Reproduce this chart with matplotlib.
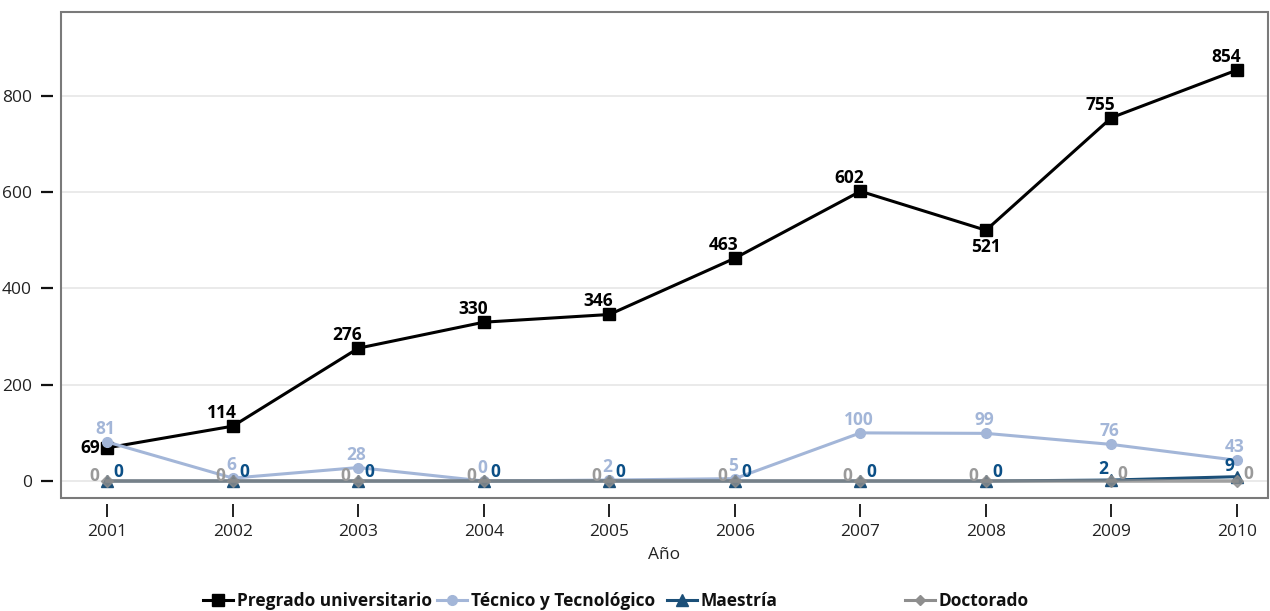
import matplotlib
matplotlib.use('Agg')
import matplotlib.pyplot as plt
from matplotlib.patches import Rectangle
from matplotlib.lines import Line2D

# ---- data ----
years = [2001, 2002, 2003, 2004, 2005, 2006, 2007, 2008, 2009, 2010]
pregrado = [69, 114, 276, 330, 346, 463, 602, 521, 755, 854]
tecnico = [81, 6, 28, 0, 2, 5, 100, 99, 76, 43]
maestria = [0, 0, 0, 0, 0, 0, 0, 0, 2, 9]
doctorado = [0, 0, 0, 0, 0, 0, 0, 0, 0, 0]
series_names = ['Pregrado universitario', 'Técnico y Tecnológico', 'Maestría', 'Doctorado']
y_ticks = [0, 200, 400, 600, 800]
x_label = 'Año'

plt.rcParams['font.family'] = ['Open Sans', 'DejaVu Sans']

C_PRE = '#000000'
C_TEC = '#a3b6d8'
C_MAE = '#1b4f78'
C_MAE_T = '#0b4f86'
C_DOC = '#8e8e8e'
C_DOC_T = '#9a9a9a'

fig = plt.figure(figsize=(12.7, 6.11), dpi=100)
ax = fig.add_axes([61/1270, 1-498/611, (1268-61)/1270, (498-12)/611])

ax.plot(years, pregrado, color=C_PRE, lw=2.2, marker='s', ms=8, zorder=3)
ax.plot(years, tecnico, color=C_TEC, lw=2.2, marker='o', ms=7, zorder=4)
ax.plot(years, maestria, color=C_MAE, lw=2.2, marker='^', ms=9, zorder=5)
ax.plot(years, doctorado, color=C_DOC, lw=2.6, marker='D', ms=6, zorder=6, alpha=0.8)

ax.set_xlim(2000.631, 2010.247)
ax.set_ylim(-35.3, 974.5)
ax.set_xticks(years)
ax.set_yticks(y_ticks)
ax.grid(axis='y', color='#e6e6e6', lw=1.2, zorder=0)
ax.set_axisbelow(True)

for s in ax.spines.values():
    s.set_visible(False)
ax.spines['left'].set_position(('outward', 6))
ax.spines['bottom'].set_position(('outward', 4))
ax.add_patch(Rectangle((0, 0), 1, 1, transform=ax.transAxes, fill=False,
                       edgecolor='#7a7a7a', lw=1.5, zorder=10, clip_on=False))
ax.tick_params(axis='y', length=9, width=1.6, color='#111111', pad=6,
               labelsize=12.5, labelcolor='#222222')
ax.tick_params(axis='x', length=9, width=1.3, color='#111111', pad=6,
               labelsize=12.5, labelcolor='#222222')
ax.set_xlabel(x_label, fontsize=12.5, color='#222222', labelpad=5)

PX = 0.72  # pixel -> points at 100 dpi

def lab(x, y, txt, color, dx, dy, ha='center', va='center'):
    ax.annotate(txt, (x, y), xytext=(dx*PX, dy*PX), textcoords='offset points',
                ha=ha, va=va, fontsize=12.5, fontweight='bold', color=color, zorder=12)

for i, (x, v) in enumerate(zip(years, pregrado)):
    if i == 0:
        lab(x, v, str(v), C_PRE, -7, 0, ha='right')
    elif x == 2008:
        lab(x, v, str(v), C_PRE, 0, -17)
    else:
        lab(x, v, str(v), C_PRE, -11, 13)

for x, v in zip(years, tecnico):
    lab(x, v, str(v), C_TEC, -2, 13)

for x, v in zip(years, maestria):
    if x in (2009, 2010):
        lab(x, v, str(v), C_MAE_T, -8, 11)
    else:
        lab(x, v, str(v), C_MAE_T, 11, 9)

for x, v in zip(years, doctorado):
    if x in (2009, 2010):
        lab(x, v, str(v), C_DOC_T, 11, 7)
    else:
        lab(x, v, str(v), C_DOC_T, -13, 5)

# ---- legend ----
handles = [
    Line2D([], [], color=C_PRE, lw=2.2, marker='s', ms=8),
    Line2D([], [], color=C_TEC, lw=2.2, marker='o', ms=7),
    Line2D([], [], color=C_MAE, lw=2.2, marker='^', ms=8),
    Line2D([], [], color=C_DOC, lw=2.2, marker='D', ms=5),
]
leg_x = [203, 437, 667, 905]
for h, name, lx in zip(handles, series_names, leg_x):
    fig.legend([h], [name], loc='center left', bbox_to_anchor=(lx/1270, 1-601/611),
               frameon=False, borderpad=0, borderaxespad=0, handlelength=1.75,
               handletextpad=0.2, prop={'size': 12.5, 'weight': 'bold'},
               labelcolor='#111111')

fig.savefig('out.png', dpi=100)
